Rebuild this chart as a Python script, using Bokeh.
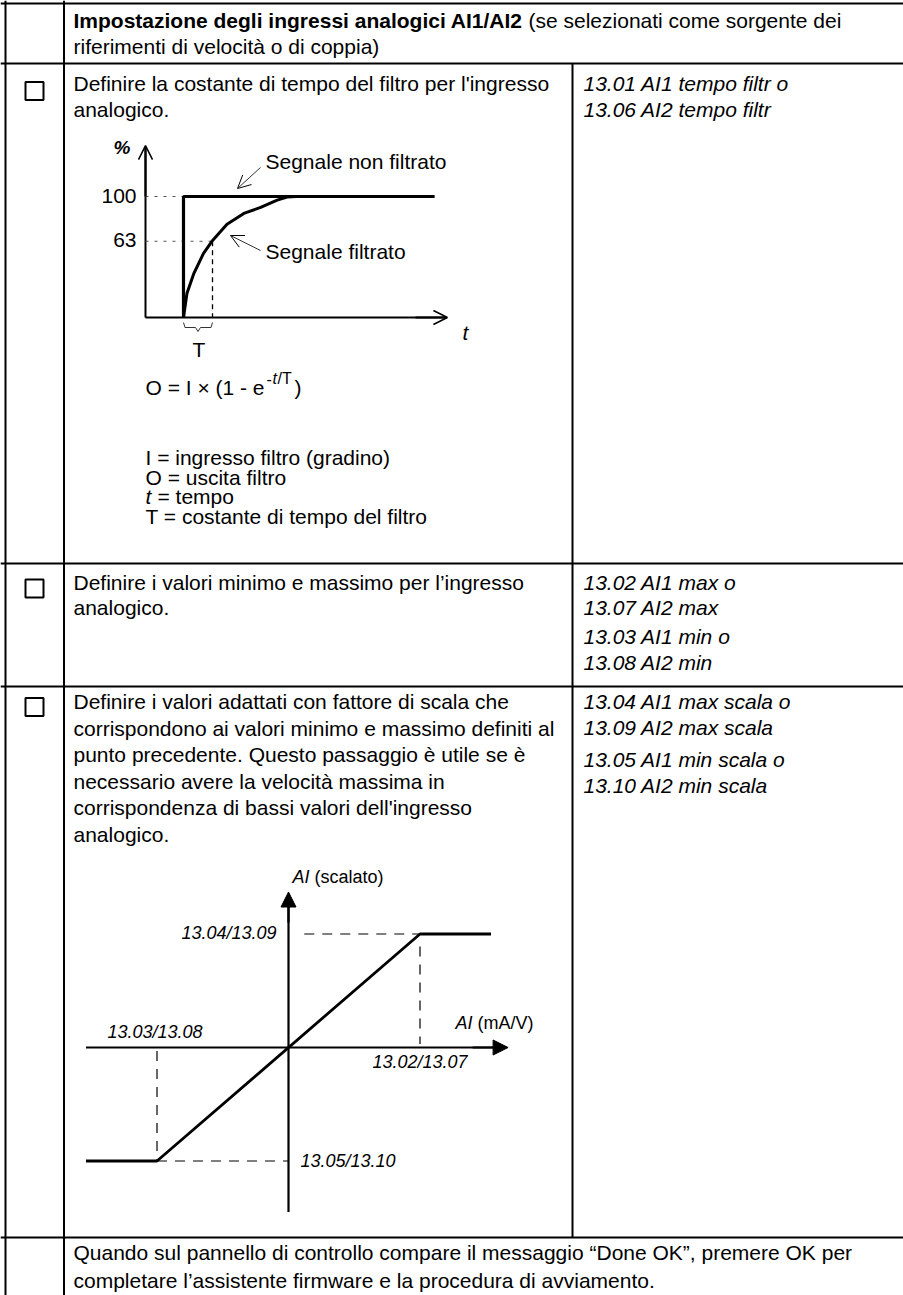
from bokeh.plotting import figure
from bokeh.models import Range1d, Arrow, OpenHead, NormalHead
from bokeh.core.properties import value
from bokeh.embed import file_html
from bokeh.resources import INLINE

FONT = "Liberation Sans"

# ---------------- text content ----------------
header_bold = "Impostazione degli ingressi analogici AI1/AI2"
header_rest = "(se selezionati come sorgente dei"
header_line2 = "riferimenti di velocità o di coppia)"

step1_text = ["Definire la costante di tempo del filtro per l'ingresso", "analogico."]
step1_params = ["13.01 AI1 tempo filtr o", "13.06 AI2 tempo filtr"]
step2_text = ["Definire i valori minimo e massimo per l’ingresso", "analogico."]
step2_params = ["13.02 AI1 max o", "13.07 AI2 max", "13.03 AI1 min o", "13.08 AI2 min"]
step3_text = ["Definire i valori adattati con fattore di scala che",
              "corrispondono ai valori minimo e massimo definiti al",
              "punto precedente. Questo passaggio è utile se è",
              "necessario avere la velocità massima in",
              "corrispondenza di bassi valori dell'ingresso",
              "analogico."]
step3_params = ["13.04 AI1 max scala o", "13.09 AI2 max scala", "13.05 AI1 min scala o", "13.10 AI2 min scala"]
final_text = ["Quando sul pannello di controllo compare il messaggio “Done OK”, premere OK per",
              "completare l’assistente firmware e la procedura di avviamento."]

formula_main = "O = I × (1 - e"
defs_plain = ["I = ingresso filtro (gradino)", "O = uscita filtro"]
def_t = "= tempo"
def_T = "T = costante di tempo del filtro"

# ---------------- filter graph data (t in units of T, value in %) ----------------
unfilt_t = [0.0, 0.0, 8.66]
unfilt_v = [0, 100, 100]
filt_t = [0.0, 0.12, 0.35, 0.69, 0.98, 1.5, 2.08, 2.66, 3.23, 3.57, 3.9, 4.3]
filt_v = [0, 20, 36, 53, 63, 77, 86, 91, 97, 99.5, 100, 100]
level_values = [100, 63]
level_labels = ["100", "63"]
time_constant = 1.0

# ---------------- scaling graph data ----------------
ai_in = [-1.54, -1.0, 1.0, 1.54]
ai_scaled = [-1.0, -1.0, 1.0, 1.0]
ai_min, ai_max = -1.0, 1.0
sc_min, sc_max = -1.0, 1.0
lbl_max_scaled = "13.04/13.09"
lbl_min_in = "13.03/13.08"
lbl_max_in = "13.02/13.07"
lbl_min_scaled = "13.05/13.10"

# ---------------- layout (picture pixel coordinates) ----------------
W, H = 903, 1295
p = figure(width=W, height=H, output_backend="svg", toolbar_location=None,
           x_range=Range1d(0, W), y_range=Range1d(H, 0),
           min_border=0, outline_line_color=None, background_fill_color="white")
p.axis.visible = False
p.grid.visible = False

# graph 1 mapping: x = G1X + G1SX * t ; y = G1Y - G1SY * v
G1X, G1SX, G1Y, G1SY = 183.0, 29.0, 317.0, 1.21
p.extra_x_ranges["g1x"] = Range1d(-G1X / G1SX, (W - G1X) / G1SX)
p.extra_y_ranges["g1y"] = Range1d((G1Y - H) / G1SY, G1Y / G1SY)
# graph 2 mapping
G2X, G2SX, G2Y, G2SY = 288.0, 131.5, 1047.0, 113.5
p.extra_x_ranges["g2x"] = Range1d(-G2X / G2SX, (W - G2X) / G2SX)
p.extra_y_ranges["g2y"] = Range1d((G2Y - H) / G2SY, G2Y / G2SY)
g1 = dict(x_range_name="g1x", y_range_name="g1y")
g2 = dict(x_range_name="g2x", y_range_name="g2y")


def txt(x, y, t, size="21px", style="normal", align="left", color="black"):
    p.text(x=[x], y=[y], text=[t], text_font=value(FONT), text_font_size=size,
           text_font_style=style, text_align=align, text_baseline="alphabetic",
           text_color=color)


def lines(items, x, start, step, size="21px", style="normal"):
    for i, t in enumerate(items):
        txt(x, start + i * step, t, size=size, style=style)


# ---------------- table grid ----------------
LW = 2
for yy in [3, 63, 563, 686, 1237]:
    p.line([0, W], [yy, yy], line_color="black", line_width=LW)
p.line([5, 5], [0, H], line_color="black", line_width=LW)
p.line([63.5, 63.5], [0, H], line_color="black", line_width=LW)
p.line([572, 572], [63, 1237], line_color="black", line_width=LW)

# checkboxes
for cy in [90.5, 588, 706.5]:
    p.rect(x=[34], y=[cy], width=18, height=18, fill_color=None,
           line_color="black", line_width=2)

# ---------------- texts ----------------
TX, PX = 73, 583
txt(TX, 19.5, header_bold, style="bold")
txt(TX + 455, 19.5, header_rest)
txt(TX, 45.5, header_line2)

lines(step1_text, TX, 83, 26)
lines(step1_params, PX, 83, 26, style="italic")

lines(step2_text, TX, 581.5, 25)
txt(PX, 581.5, step2_params[0], style="italic")
txt(PX, 606.5, step2_params[1], style="italic")
txt(PX, 636, step2_params[2], style="italic")
txt(PX, 662, step2_params[3], style="italic")

lines(step3_text, TX, 701, 26.6)
txt(PX, 701, step3_params[0], style="italic")
txt(PX, 727, step3_params[1], style="italic")
txt(PX, 759, step3_params[2], style="italic")
txt(PX, 785, step3_params[3], style="italic")

txt(TX, 1252, final_text[0])
txt(TX, 1280, final_text[1])

# formula & definitions
txt(145, 387, formula_main)
txt(266, 378, "-", size="16px")
txt(272, 378, "t", size="16px", style="italic")
txt(277, 378, "/T", size="16px")
txt(294, 387, ")")
txt(145, 457, defs_plain[0])
txt(145, 476.5, defs_plain[1])
txt(145, 496, "t", style="italic")
txt(157, 496, def_t)
txt(145, 515.5, def_T)

# ---------------- graph 1 : filter ----------------
AX_T = (145 - G1X) / G1SX          # vertical axis position
p.line([AX_T, AX_T], [0, 140], line_color="black", line_width=2, **g1)
p.add_layout(Arrow(end=OpenHead(size=14, line_width=1.5), x_start=AX_T, y_start=100,
                   x_end=AX_T, y_end=142, line_width=2, line_color="black", **g1))
p.line([AX_T, 9.0], [0, 0], line_color="black", line_width=2, **g1)
p.add_layout(Arrow(end=OpenHead(size=14, line_width=1.5), x_start=8.0, y_start=0,
                   x_end=9.1, y_end=0, line_width=2, line_color="black", **g1))

for lv in level_values:
    tend = 0.0 if lv == 100 else time_constant
    p.line([AX_T, tend], [lv, lv], line_color="#555555", line_width=1,
           line_dash="3 6", **g1)
p.text(x=[AX_T] * 2, y=level_values, text=level_labels, x_offset=-9, y_offset=-1,
       text_font=value(FONT), text_font_size="21px", text_align="right",
       text_baseline="alphabetic", **g1)

p.line([time_constant, time_constant], [63, 0], line_color="black", line_width=1.3,
       line_dash="5 4", **g1)
p.line(unfilt_t, unfilt_v, line_color="black", line_width=3.2, **g1)
p.line(filt_t, filt_v, line_color="black", line_width=3, line_join="round", **g1)

# brace under T
p.line([183, 184.5, 195, 197.5, 200, 210.5, 212],
       [322, 327, 327, 331, 327, 327, 322], line_color="#333333", line_width=1)
txt(192, 349, "T")
txt(113, 147, "%", size="19px", style="bold italic")
txt(462, 332, "t", style="italic")

txt(265, 161, "Segnale non filtrato")
txt(265, 251, "Segnale filtrato")
p.add_layout(Arrow(end=OpenHead(size=13, line_width=1), x_start=260, y_start=167,
                   x_end=237, y_end=188, line_width=1, line_color="#333333"))
p.add_layout(Arrow(end=OpenHead(size=13, line_width=1), x_start=260, y_start=250,
                   x_end=230, y_end=235, line_width=1, line_color="#333333"))

# ---------------- graph 2 : scaling ----------------
p.line([-1.54, 1.6], [0, 0], line_color="black", line_width=2.2, **g2)
p.add_layout(Arrow(end=NormalHead(size=15, fill_color="black", line_color="black"),
                   x_start=1.4, y_start=0, x_end=1.67, y_end=0, line_width=2.2,
                   line_color="black", **g2))
p.line([0, 0], [-1.45, 1.3], line_color="black", line_width=2.2, **g2)
p.add_layout(Arrow(end=NormalHead(size=15, fill_color="black", line_color="black"),
                   x_start=0, y_start=1.1, x_end=0, y_end=1.37, line_width=2.2,
                   line_color="black", **g2))

dash2 = dict(line_color="black", line_width=1.2, line_dash="10 8")
p.line([0.12, ai_max], [sc_max, sc_max], **dash2, **g2)
p.line([ai_max, ai_max], [sc_max - 0.11, 0.03], **dash2, **g2)
p.line([ai_min, ai_min], [-0.03, sc_min], **dash2, **g2)
p.line([ai_min, 0], [sc_min, sc_min], **dash2, **g2)

p.line(ai_in, ai_scaled, line_color="black", line_width=2.8, **g2)

s18 = "18px"
p.text(x=[0], y=[sc_max], text=[lbl_max_scaled], x_offset=-12, y_offset=-1,
       text_font=value(FONT), text_font_size=s18, text_font_style="italic",
       text_align="right", text_baseline="alphabetic", **g2)
txt(107, 1031, lbl_min_in, size=s18, style="italic")
txt(372, 1061, lbl_max_in, size=s18, style="italic")
txt(300, 1160, lbl_min_scaled, size=s18, style="italic")
txt(292, 876, "AI", size=s18, style="italic")
txt(314, 876, "(scalato)", size=s18)
txt(455, 1022, "AI", size=s18, style="italic")
txt(477, 1022, "(mA/V)", size=s18)

open("out.html", "w").write(file_html(p, INLINE))
